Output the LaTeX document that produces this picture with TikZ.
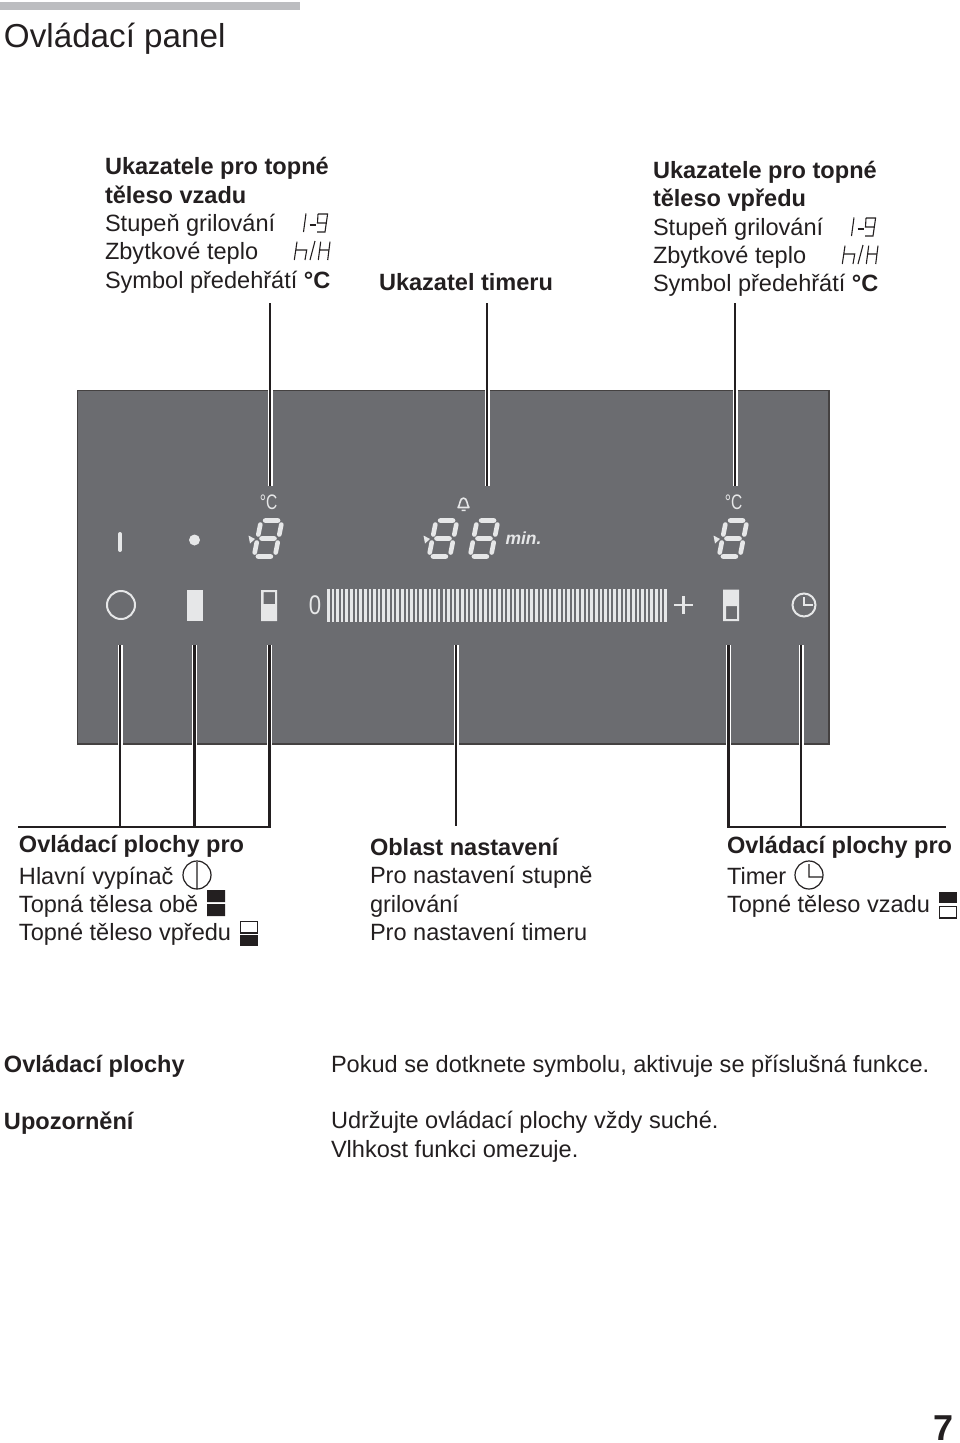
\documentclass[tikz,border=0pt]{standalone}
\usepackage{fontspec}
\setmainfont{Liberation Sans}
\usepackage{xcolor}
\usetikzlibrary{positioning}
\definecolor{ink}{HTML}{231F20}
\definecolor{panelgray}{HTML}{6B6C70}
\definecolor{lit}{HTML}{E6E7E8}
\definecolor{topbar}{HTML}{BCBDC0}

\begin{document}
\begin{tikzpicture}[
 x=1pt,y=-1pt,
 txt/.style={anchor=north west,inner sep=0pt,outer sep=0pt,align=left,text=ink,font=\fontsize{23.55}{28.4}\selectfont},
 one/.style={anchor=base west,inner sep=0pt,outer sep=0pt,text=ink,font=\fontsize{23.55}{28.4}\selectfont},
 leader/.style={draw=ink,line width=2.2pt,preaction={draw=white,line width=5pt}},
 bus/.style={draw=ink,line width=2.2pt},
 symb/.style={draw=lit,line width=2pt},
 seg/.style={draw=lit,line width=4.6pt,line cap=round},
 thin glyph/.style={draw=ink,line width=1.1pt},
 sevenseg/.pic={
  \draw[seg,xslant=0.2] (-6.5,-18)--(6.5,-18) (-6.5,0)--(6.5,0) (-6.5,18)--(6.5,18)
    (-10.5,-14)--(-10.5,-4) (10.5,-14)--(10.5,-4) (-10.5,4)--(-10.5,14) (10.5,4)--(10.5,14);
 },
 levels/.pic={
  \draw[thin glyph] (306,213.5)--(303.5,232);
  \draw[draw=ink,line width=2pt] (309.5,224.5)--(316,224.5);
  \draw[thin glyph] (318,214)--(327.6,214)--(325,232)--(317,232) (326.4,223)--(317.5,223)--(318,214);
  \draw[thin glyph] (297,241.7)--(294.3,260) (295.7,250)--(306.7,250)--(305,260);
  \draw[thin glyph] (315,241)--(310,260);
  \draw[thin glyph] (320.7,241.7)--(318.3,260) (330,241.7)--(327.7,260) (319.5,250)--(329,250);
 }
]
\useasboundingbox (0,0) rectangle (960,1443);
\fill[white] (0,0) rectangle (960,1443);
\fill[topbar] (0,2) rectangle (300,10);
\node[one,font=\fontsize{33.2}{36}\selectfont] (title) at (4,47) {Ovládací panel};

\node[txt] (backinfo) at (105,157.5) {\textbf{Ukazatele pro topné}\\\textbf{těleso vzadu}\\Stupeň grilování\\Zbytkové teplo\\Symbol předehřátí \textbf{°C}};
\node[one] (timerinfo) at (379,290) {\textbf{Ukazatel timeru}};
\node[txt] (frontinfo) at (653,161) {\textbf{Ukazatele pro topné}\\\textbf{těleso vpředu}\\Stupeň grilování\\Zbytkové teplo\\Symbol předehřátí \textbf{°C}};
\pic at (0,0) {levels};
\pic at (548,4) {levels};

\filldraw[fill=panelgray,draw=ink!85,line width=1.8pt] (77.5,390.5) rectangle (829,744) coordinate (panelse);
\coordinate (panel) at (77.5,390.5);

\coordinate (t1) at (270,303);
\coordinate (t2) at (270,486);
\coordinate (t3) at (487,303);
\coordinate (t4) at (487,486);
\coordinate (t5) at (735,303);
\coordinate (t6) at (735,486);
\coordinate (b1) at (120,645);
\coordinate (b2) at (120,827);
\coordinate (b3) at (194.5,645);
\coordinate (b4) at (194.5,827);
\coordinate (b5) at (269.5,645);
\coordinate (b6) at (269.5,827);
\coordinate (b7) at (456,645);
\coordinate (b8) at (456,826);
\coordinate (b9) at (728.5,645);
\coordinate (b10) at (728.5,827);
\coordinate (b11) at (801,645);
\coordinate (b12) at (801,827);
\coordinate (e1) at (19,827);
\coordinate (e2) at (945,827);
\foreach \a/\b in {t1/t2,t3/t4,t5/t6,b1/b2,b3/b4,b5/b6,b7/b8,b9/b10,b11/b12}
 \draw[leader] (\a)--(\b);
\draw[bus,line cap=rect] (e1)--(b6);
\draw[bus,line cap=rect] (b10)--(e2);

\node[inner sep=0pt,text=lit,font=\fontsize{21}{21}\selectfont,xscale=0.74] (degl) at (268.5,502) {°C};
\node[inner sep=0pt,text=lit,font=\fontsize{21}{21}\selectfont,xscale=0.74] (degr) at (733.5,502) {°C};
\draw[draw=lit,line width=1.6pt,line join=round] (458,507.5) .. controls (460,506) and (459.5,498) .. (463.5,498) .. controls (467.5,498) and (467,506) .. (469,507.5) -- cycle (461.5,510.3)--(465.5,510.3);
\node[inner sep=0pt,text=lit,font=\fontsize{17.5}{18}\selectfont\bfseries\itshape] (minlabel) at (523.5,538.5) {min.};

\pic at (268,538.5) {sevenseg};
\pic at (443,538.5) {sevenseg};
\pic at (484,538.5) {sevenseg};
\pic at (733,538.5) {sevenseg};
\foreach \x in {248.5,423.5,713.5}
 \fill[lit] (\x,535.5)--(\x+6.5,539)--(\x+1.5,543.5)--cycle;

\draw[lit,line width=4pt,line cap=round] (120,534)--(120,550);
\fill[lit] (194.5,540) circle (5.5);
\draw[symb] (121,605) circle (14);
\fill[lit] (187,589.5) rectangle (203,621);
\fill[lit,even odd rule] (261,590) rectangle (277,621) (263.5,592) rectangle (275,604);
\fill[lit,even odd rule] (723,589.5) rectangle (739,621) (726,606) rectangle (737,619);
\draw[symb] (804,605) circle (11.5);
\draw[symb] (804,597)--(804,605)--(813,605);
\node[inner sep=0pt,text=lit,font=\fontsize{27}{27}\selectfont,xscale=0.82] (zero) at (315,605) {0};
\foreach \i in {0,...,73}
 \fill[lit] (327+\i*4.62,589) rectangle (329.6+\i*4.62,621.5);
\draw[lit,line width=2.2pt] (674,605)--(693,605) (683.5,596)--(683.5,614);

\node[txt] (leftkeys) at (19,835) {\textbf{Ovládací plochy pro}\\[3.5pt]Hlavní vypínač\\Topná tělesa obě\\Topné těleso vpředu};
\draw[ink,line width=1.2pt] (197,875) circle (14) (197,862)--(197,888);
\fill[ink] (207,890) rectangle (225,902) (207,904) rectangle (225,916);
\draw[ink,line width=1.2pt] (240.5,921.5) rectangle (257.5,933);
\fill[ink] (240,935) rectangle (258,946);

\node[txt] (midkeys) at (370,838) {\textbf{Oblast nastavení}\\Pro nastavení stupně\\grilování\\Pro nastavení timeru};

\node[txt] (rightkeys) at (727,836.5) {\textbf{Ovládací plochy pro}\\[2pt]Timer\\Topné těleso vzadu};
\draw[ink,line width=1.2pt] (809,875) circle (14) (809,864)--(809,877)--(822,877);
\fill[ink] (939,892) rectangle (957,903);
\draw[ink,line width=1.2pt] (939.5,906.5) rectangle (956.5,918);

\node[one] (keyhead) at (4,1072) {\textbf{Ovládací plochy}};
\node[one] (notehead) at (4,1129) {\textbf{Upozornění}};
\node[one] (keytext) at (331,1072) {Pokud se dotknete symbolu, aktivuje se příslušná funkce.};
\node[txt] (notetext) at (331,1111.5) {Udržujte ovládací plochy vždy suché.\\Vlhkost funkci omezuje.};
\node[one,font=\fontsize{36}{40}\selectfont\bfseries] (pageno) at (933,1440) {7};
\end{tikzpicture}
\end{document}
